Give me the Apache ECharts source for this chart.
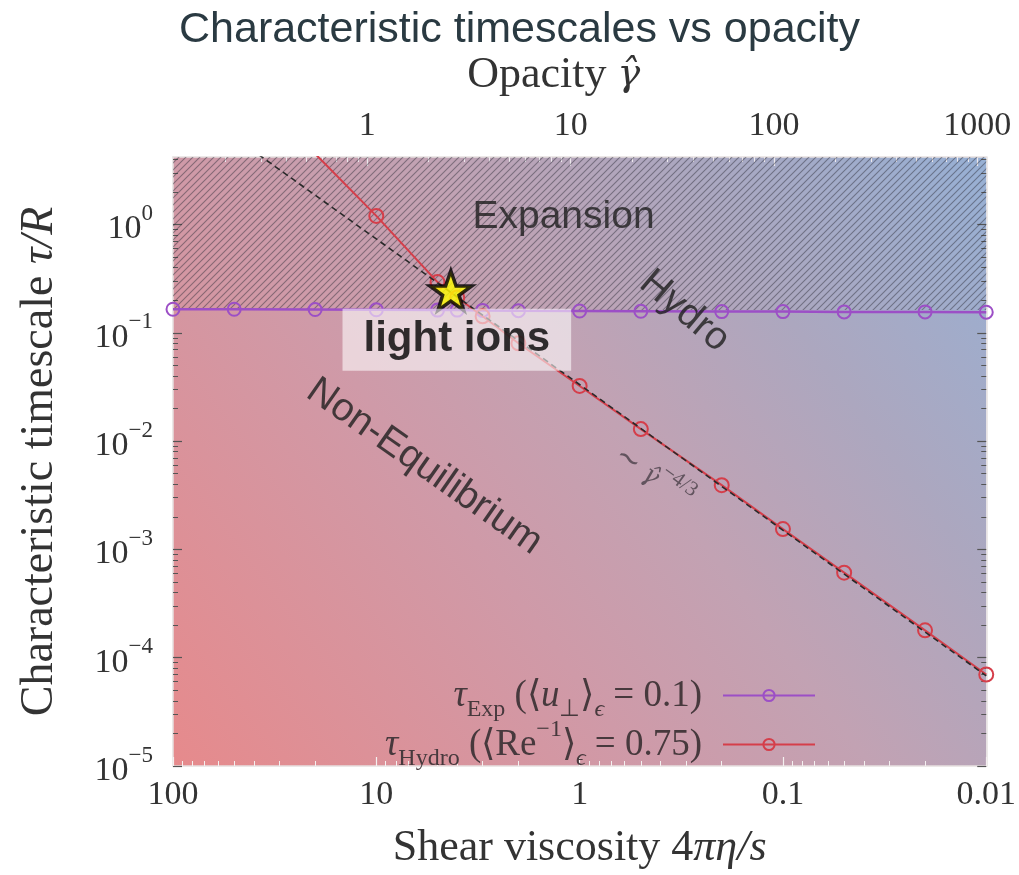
<!DOCTYPE html>
<html>
<head>
<meta charset="utf-8">
<script src="https://cdn.jsdelivr.net/npm/echarts@6/dist/echarts.min.js"></script>
<style>
  html, body { margin: 0; padding: 0; background: #ffffff; }
  #chart { width: 1019px; height: 875px; }
</style>
</head>
<body>
<div id="chart"></div>
<script>
// Shear viscosity 4πη/s sampled for the expansion timescale
const VISC_EXP = [100, 50, 20, 10, 5, 4, 3, 2, 1, 0.5, 0.2, 0.1, 0.05, 0.02, 0.01];
const TAU_EXP = [0.165, 0.165, 0.164, 0.163, 0.162, 0.162, 0.161, 0.160, 0.159, 0.158, 0.157, 0.157, 0.156, 0.156, 0.155];

// Hydrodynamisation timescale
const VISC_HYDRO = [20, 10, 5, 4, 3, 2, 1, 0.5, 0.2, 0.1, 0.05, 0.02, 0.01];
const TAU_HYDRO = [4.5, 1.2, 0.294, 0.212, 0.142, 0.080, 0.0323, 0.0129, 0.00392, 0.00154, 0.00061, 0.000179, 0.000070];

// Power-law guide  ~ γ̂^(-4/3)
const SCALING_VISC = [50, 0.01];
const SCALING_TAU = [6.4, 0.000068];

// Light-ion point (viscosity, timescale)
const LIGHT_IONS = [4.3, 0.245];

// Axis ranges and labelled ticks
const VISC_RANGE = [0.01, 100];
const OPACITY_RANGE = [0.1107, 1107];
const TAU_RANGE = [0.00001, 4.2];
const HATCH_FLOOR = 0.162;
const VISC_TICKS = [100, 10, 1, 0.1, 0.01];
const OPACITY_TICKS = [1, 10, 100, 1000];
const TAU_TICKS = [1, 0.1, 0.01, 0.001, 0.0001, 0.00001];

function minorTicks(lo, hi) {
  const out = [];
  for (let e = Math.floor(Math.log10(lo)); e <= Math.ceil(Math.log10(hi)); e++) {
    for (let m = 2; m <= 9; m++) {
      const v = m * Math.pow(10, e);
      if (v > lo && v < hi) out.push(v);
    }
  }
  return out;
}

function hatchPattern() {
  const s = 7;
  const c = document.createElement('canvas');
  c.width = s; c.height = s;
  const g = c.getContext('2d');
  g.strokeStyle = 'rgba(45,45,55,0.45)';
  g.lineWidth = 1.1;
  g.beginPath();
  g.moveTo(-1, s + 1); g.lineTo(s + 1, -1);
  g.moveTo(-1, 1); g.lineTo(1, -1);
  g.moveTo(s - 1, s + 1); g.lineTo(s + 1, s - 1);
  g.stroke();
  return c;
}

const PURPLE = '#9c4fc6';
const RED = '#d53e4a';
const SERIF = 'Liberation Serif';
const SANS = 'Liberation Sans';
const STAR = 'path://M50 2 L61.8 36.2 L97.6 36.2 L68.6 57.4 L79.4 92 L50 70.6 L20.6 92 L31.4 57.4 L2.4 36.2 L38.2 36.2 Z';

const axisFont = { fontFamily: SERIF, fontSize: 34, color: '#333333' };
function nameRich(size) {
  return {
    n: { fontFamily: SERIF, fontSize: size, color: '#333333' },
    i: { fontFamily: SERIF, fontSize: size, color: '#333333', fontStyle: 'italic' },
    g: { fontFamily: 'DejaVu Serif', fontSize: size - 6, color: '#333333', fontStyle: 'italic' }
  };
}

function isDecade(v) {
  const e = Math.log10(v);
  return Math.abs(e - Math.round(e)) < 1e-6;
}

function tickAxis(base, major, minor, color, labels) {
  return [
    Object.assign({}, base, {
      axisLine: { show: true, lineStyle: { color: '#e6e0e0', width: 1.5 } },
      axisTick: { show: true, inside: true, length: 9, lineStyle: { color: color, width: 1.2 }, customValues: major },
      axisLabel: labels ? Object.assign({ customValues: major }, labels) : { show: false },
      splitLine: { show: false }
    }),
    Object.assign({}, base, {
      name: '',
      axisLine: { show: false },
      axisTick: { show: true, inside: true, length: 5, lineStyle: { color: color, width: 1 }, customValues: minor },
      axisLabel: { show: false },
      splitLine: { show: false }
    })
  ];
}

const viscBase = { type: 'log', min: VISC_RANGE[0], max: VISC_RANGE[1], inverse: true, gridIndex: 0 };
const opacBase = { type: 'log', min: OPACITY_RANGE[0], max: OPACITY_RANGE[1], gridIndex: 0, position: 'top' };
const tauBase = { type: 'log', min: TAU_RANGE[0], max: TAU_RANGE[1], gridIndex: 0 };

const xAxes = []
  .concat(tickAxis(Object.assign({}, viscBase, {
    position: 'bottom',
    name: '{n|Shear viscosity 4}{i|πη/s}', nameLocation: 'middle', nameGap: 60,
    nameTextStyle: { rich: nameRich(44) }
  }), VISC_TICKS, minorTicks(VISC_RANGE[0], VISC_RANGE[1]), '#f4f0f0', Object.assign({
    margin: 12,
    formatter: v => String(v)
  }, axisFont)))
  .concat(tickAxis(Object.assign({}, opacBase, {
    name: '{n|Opacity }{g|γ̂}', nameLocation: 'middle', nameGap: 60,
    nameTextStyle: { rich: nameRich(44), padding: [0, 52, 0, 0] }
  }), OPACITY_TICKS, minorTicks(OPACITY_RANGE[0], OPACITY_RANGE[1]), '#ece8ec', Object.assign({
    margin: 14,
    formatter: v => String(Math.round(v))
  }, axisFont)));

const yAxes = []
  .concat(tickAxis(Object.assign({}, tauBase, {
    position: 'left',
    name: '{n|Characteristic timescale }{i|τ/R}', nameLocation: 'middle', nameGap: 110, nameRotate: 90,
    nameTextStyle: { rich: nameRich(46) }
  }), TAU_TICKS, minorTicks(TAU_RANGE[0], TAU_RANGE[1]), '#555555', {
    margin: 20,
    formatter: v => {
      if (!isDecade(v)) return '';
      const e = Math.round(Math.log10(v));
      return '{b|10}{e|' + (e < 0 ? '−' + (-e) : String(e)) + '}';
    },
    rich: {
      b: { fontFamily: SERIF, fontSize: 34, color: '#333333', padding: [10, 0, 0, 0] },
      e: { fontFamily: SERIF, fontSize: 23, color: '#333333', verticalAlign: 'top' }
    }
  }))
  .concat(tickAxis(Object.assign({}, tauBase, { position: 'right' }),
    TAU_TICKS, minorTicks(TAU_RANGE[0], TAU_RANGE[1]), '#555555', null));

const LEG_COLOR = '#47393d';
const legendRich = {
  t: { fontFamily: SERIF, fontSize: 37, color: LEG_COLOR, padding: [9, 0, 7, 0] },
  i: { fontFamily: SERIF, fontSize: 37, color: LEG_COLOR, fontStyle: 'italic', padding: [9, 0, 7, 0] },
  s: { fontFamily: SERIF, fontSize: 24, color: LEG_COLOR, verticalAlign: 'bottom' },
  si: { fontFamily: SERIF, fontSize: 24, color: LEG_COLOR, fontStyle: 'italic', verticalAlign: 'bottom' },
  p: { fontFamily: SERIF, fontSize: 24, color: LEG_COLOR, verticalAlign: 'top' },
  end: { fontFamily: SERIF, fontSize: 37, color: LEG_COLOR, padding: [9, 16, 7, 0] }
};
const LEGEND_TEXT = {
  'τExp': '{i|τ}{s|Exp}{t| (⟨}{i|u}{s|⊥}{t|⟩}{si|ϵ}{end| = 0.1)}',
  'τHydro': '{i|τ}{s|Hydro}{t| (⟨Re}{p|−1}{t|⟩}{si|ϵ}{end| = 0.75)}'
};

function legendFor(name, top) {
  return {
    data: [name], orient: 'vertical', right: 203, top: top, padding: 0,
    align: 'right', itemWidth: 92, itemHeight: 14, selectedMode: false,
    formatter: n => LEGEND_TEXT[n],
    textStyle: { rich: legendRich }
  };
}

function pairs(xs, ys) { return xs.map((x, i) => [x, ys[i]]); }

const noteSans = { fontFamily: SANS, fontSize: 39, color: '#1e1e1e' };

const option = {
  animation: false,
  title: {
    text: 'Characteristic timescales vs opacity',
    left: 174, top: 4,
    textStyle: { fontFamily: SANS, fontSize: 43, fontWeight: 'normal', color: '#2a3a42' }
  },
  grid: {
    left: 173, right: 29, top: 157, bottom: 104, show: true, borderWidth: 0,
    backgroundColor: {
      type: 'linear', x: 0, y: 1, x2: 1, y2: 0,
      colorStops: [
        { offset: 0, color: '#e68a8c' },
        { offset: 0.37, color: '#cf9aa8' },
        { offset: 0.55, color: '#c2a2b3' },
        { offset: 0.75, color: '#aca7bf' },
        { offset: 1, color: '#97b0d4' }
      ]
    }
  },
  legend: [legendFor('τExp', 678), legendFor('τHydro', 718)],
  xAxis: xAxes,
  yAxis: yAxes,
  series: [
    {
      name: 'τExp', type: 'line', xAxisIndex: 0, yAxisIndex: 0,
      data: pairs(VISC_EXP, TAU_EXP),
      symbol: 'circle', symbolSize: 13,
      itemStyle: { color: 'rgba(0,0,0,0)', borderColor: PURPLE, borderWidth: 2 },
      lineStyle: { color: PURPLE, width: 2.5 },
      z: 3,
      markArea: {
        silent: true,
        itemStyle: { color: { image: hatchPattern(), repeat: 'repeat' } },
        data: [[{ yAxis: HATCH_FLOOR }, { yAxis: TAU_RANGE[1] }]]
      }
    },
    {
      name: 'τHydro', type: 'line', xAxisIndex: 0, yAxisIndex: 0,
      data: pairs(VISC_HYDRO, TAU_HYDRO),
      symbol: 'circle', symbolSize: 14,
      itemStyle: { color: 'rgba(0,0,0,0)', borderColor: RED, borderWidth: 2 },
      lineStyle: { color: RED, width: 2 },
      z: 4
    },
    {
      name: 'scaling', type: 'line', xAxisIndex: 0, yAxisIndex: 0,
      data: pairs(SCALING_VISC, SCALING_TAU),
      symbol: 'none',
      lineStyle: { color: '#2a2a2a', width: 1.6, type: [6, 4] },
      z: 5
    },
    {
      name: 'notes', type: 'scatter', xAxisIndex: 0, yAxisIndex: 0,
      symbolSize: 1, itemStyle: { color: 'rgba(0,0,0,0)' },
      label: { show: true, position: 'inside' },
      data: [
        { value: [1.2, 1.17], label: Object.assign({ formatter: 'Expansion' }, noteSans) },
        { value: [0.305, 0.158], label: Object.assign({ formatter: 'Hydro', rotate: -40 }, noteSans) },
        { value: [5.8, 0.0058], label: Object.assign({ formatter: 'Non-Equilibrium', rotate: -35 }, noteSans) },
        {
          value: [0.424, 0.0049],
          label: {
            rotate: -36,
            formatter: '{a|∼ }{g|γ̂}{e|−4/3}',
            rich: {
              a: { fontFamily: SERIF, fontSize: 30, color: '#4a4048', padding: [9, 0, 0, 0] },
              g: { fontFamily: 'DejaVu Serif', fontSize: 25, color: '#4a4048', fontStyle: 'italic', padding: [9, 0, 0, 0] },
              e: { fontFamily: SERIF, fontSize: 21, color: '#4a4048', verticalAlign: 'top' }
            }
          }
        }
      ],
      z: 6
    },
    {
      name: 'light ions', type: 'scatter', xAxisIndex: 0, yAxisIndex: 0,
      data: [LIGHT_IONS],
      symbol: STAR, symbolSize: 42, symbolKeepAspect: true,
      itemStyle: { color: '#ffff00', borderColor: '#000000', borderWidth: 3.5 },
      label: {
        show: true, position: 'inside', offset: [6, 49],
        formatter: 'light ions',
        fontFamily: SANS, fontWeight: 'bold', fontSize: 42, color: '#000000',
        backgroundColor: 'rgba(255,255,255,0.72)',
        padding: [11, 21, 9, 21]
      },
      z: 10
    }
  ]
};

const chart = echarts.init(document.getElementById('chart'), null, { renderer: 'canvas' });
chart.setOption(option);
</script>
</body>
</html>
